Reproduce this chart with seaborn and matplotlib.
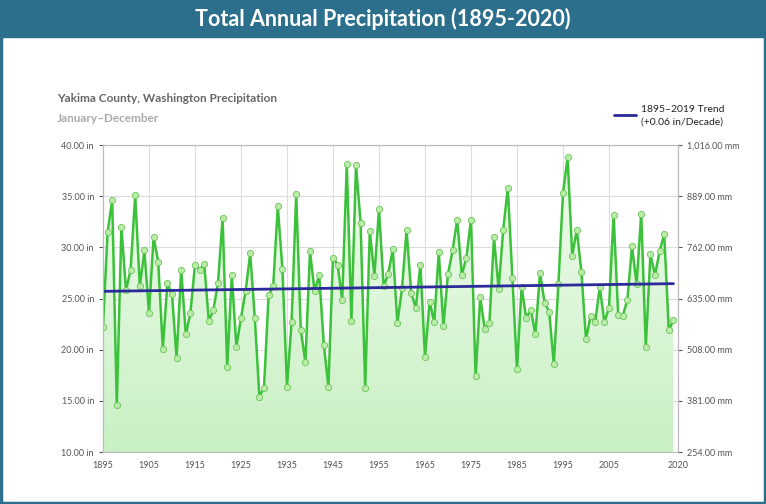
import numpy as np
import pandas as pd
import matplotlib.pyplot as plt
import seaborn as sns

years = list(range(1895, 2020))
precip = [22.2, 31.5, 34.6, 14.6, 32.0, 25.8, 27.8, 35.1, 26.2, 29.7,
          23.6, 31.0, 28.6, 20.1, 26.5, 25.4, 19.2, 27.8, 21.5, 23.6,
          28.3, 27.8, 28.4, 22.8, 23.9, 26.5, 32.9, 18.3, 27.3, 20.3,
          23.1, 25.7, 29.4, 23.1, 15.4, 16.3, 25.3, 26.2, 34.0, 27.9,
          16.4, 22.7, 35.2, 21.9, 18.8, 29.6, 25.7, 27.3, 20.5, 16.4,
          29.0, 28.3, 24.9, 38.1, 22.8, 38.0, 32.4, 16.3, 31.6, 27.2,
          33.7, 26.2, 27.4, 29.8, 22.6, 26.0, 31.7, 25.5, 24.1, 28.3,
          19.3, 24.7, 22.7, 29.5, 22.3, 27.4, 29.7, 32.7, 27.3, 29.0,
          32.7, 17.4, 25.1, 22.0, 22.6, 31.0, 25.9, 31.7, 35.8, 27.0,
          18.1, 26.1, 23.1, 23.9, 21.5, 27.5, 24.6, 23.7, 18.6, 26.4,
          35.3, 38.8, 29.2, 31.7, 27.6, 21.0, 23.3, 22.7, 26.1, 22.7,
          24.1, 33.2, 23.4, 23.3, 24.9, 30.1, 26.4, 33.3, 20.3, 29.3,
          27.3, 29.6, 31.3, 21.9, 22.9]
trend_years = [1895, 2019]
trend_vals = [25.7, 26.45]
in_ticks = [10, 15, 20, 25, 30, 35, 40]
mm_labels = ["254.00 mm", "381.00 mm", "508.00 mm", "635.00 mm",
             "762.00 mm", "889.00 mm", "1,016.00 mm"]
x_ticks = [1895, 1905, 1915, 1925, 1935, 1945, 1955, 1965, 1975, 1985, 1995, 2005, 2020]

df = pd.DataFrame({"year": years, "precip": precip})

sns.set_style("white")
plt.rcParams['font.family'] = ['Lato', 'DejaVu Sans']

fig = plt.figure(figsize=(7.66, 5.04), dpi=100)
teal = "#2c6f8c"
# header bar and frame
fig.patches.append(plt.Rectangle((0, 1 - 37 / 504), 1, 37 / 504, transform=fig.transFigure,
                                 color=teal, zorder=0))
fig.patches.append(plt.Rectangle((0.001, 0.001), 0.998, 0.998, transform=fig.transFigure,
                                 fill=False, edgecolor=teal, lw=2.5))
fig.text(0.5, 1 - 19 / 504, "Total Annual Precipitation (1895-2020)", color="white",
         ha="center", va="center", fontsize=15.5, fontweight="bold")
fig.text(57 / 766, 1 - 99 / 504, "Yakima County, Washington Precipitation", color="#666666",
         fontsize=8.5, fontweight="bold", va="center")
fig.text(57 / 766, 1 - 118 / 504, "January\u2013December", color="#aaaaaa",
         fontsize=8.5, fontweight="bold", va="center")

ax = fig.add_axes([103 / 766, 1 - 452 / 504, 575 / 766, 307 / 504])
ax.set_xlim(1895, 2020)
ax.set_ylim(10, 40)

# gradient fill under the line
poly = ax.fill_between(df["year"], df["precip"], 10, color="none", lw=0)
grad = np.linspace(0, 1, 256).reshape(-1, 1)
from matplotlib.colors import LinearSegmentedColormap
cmap = LinearSegmentedColormap.from_list("g", ["#c9f0c4", "#f2fcf0"])
img = ax.imshow(grad, cmap=cmap, aspect="auto", extent=[1895, 2020, 10, 40],
                origin="lower", zorder=1)
img.set_clip_path(poly.get_paths()[0], transform=ax.transData)

sns.lineplot(data=df, x="year", y="precip", ax=ax, color="#3cc23a", lw=1.8,
             marker="o", markersize=4.5, markerfacecolor="#b9eca6",
             markeredgecolor="#6cc45a", markeredgewidth=0.6, zorder=3)
ax.plot(trend_years, trend_vals, color="#2b2a9a", lw=2, zorder=4)

ax.set_xticks(x_ticks)
ax.set_yticks(in_ticks)
ax.set_yticklabels([f"{v:.2f} in" for v in in_ticks])
ax.tick_params(labelsize=6.5, colors="#555555", length=3)
ax.grid(True, color="#dddddd", lw=0.8)
ax.set_axisbelow(True)
ax.set_xlabel("")
ax.set_ylabel("")
for s in ax.spines.values():
    s.set_color("#bbbbbb")

ax2 = ax.twinx()
ax2.set_ylim(10, 40)
ax2.set_yticks(in_ticks)
ax2.set_yticklabels(mm_labels)
ax2.tick_params(labelsize=6.5, colors="#555555", length=3)
for s in ax2.spines.values():
    s.set_color("#bbbbbb")

# legend
fig.lines.append(plt.Line2D([614 / 766, 636 / 766], [1 - 115 / 504] * 2,
                            transform=fig.transFigure, color="#2b2a9a", lw=2))
fig.text(641 / 766, 1 - 109 / 504, "1895\u20132019 Trend", fontsize=7.5, color="#222222", va="center")
fig.text(641 / 766, 1 - 122 / 504, "(+0.06 in/Decade)", fontsize=7.5, color="#222222", va="center")

fig.savefig("out.png", dpi=100)
